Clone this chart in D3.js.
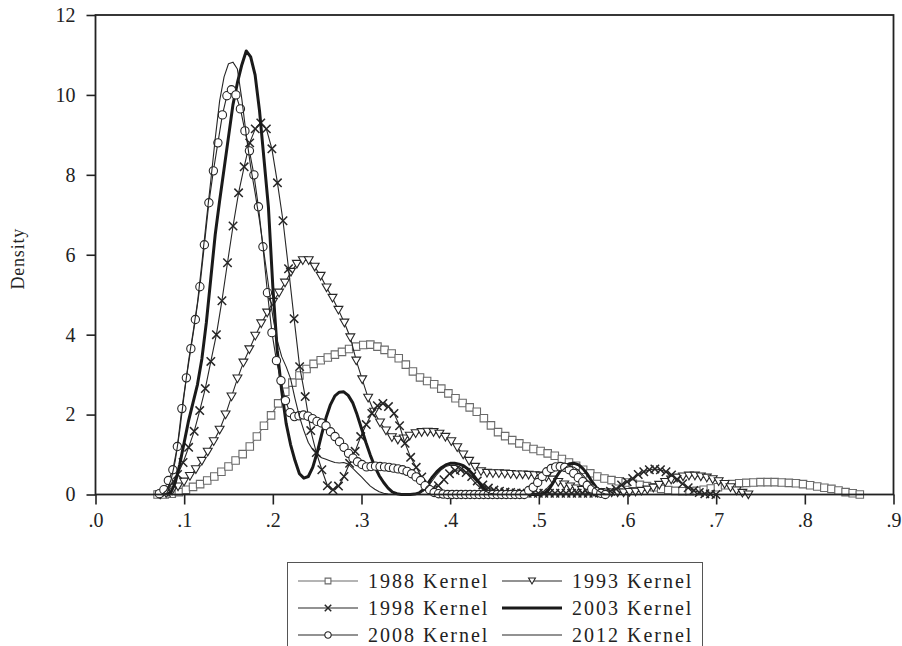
<!DOCTYPE html>
<html>
<head>
<meta charset="utf-8">
<script src="https://cdn.jsdelivr.net/npm/d3@7"></script>
<style>
  body { margin: 0; background: #fff; }
  svg text { font-family: "Liberation Serif", "Times New Roman", serif; fill: #222; }
</style>
</head>
<body>
<div id="chart"></div>
<script>
// kernel density estimates, each evaluated on an even grid [start, step]
var grid1988 = [0.070, 0.008];
var dens1988 = [0.00,0.00,0.02,0.06,0.12,0.19,0.26,0.35,0.45,0.57,
  0.70,0.85,1.01,1.20,1.45,1.72,1.98,2.28,2.57,2.80,
  2.98,3.14,3.27,3.36,3.43,3.50,3.57,3.64,3.70,3.74,
  3.75,3.70,3.62,3.53,3.41,3.25,3.08,2.93,2.84,2.76,
  2.65,2.53,2.41,2.29,2.18,2.07,1.91,1.73,1.56,1.46,
  1.36,1.28,1.20,1.14,1.09,1.03,0.97,0.89,0.80,0.72,
  0.62,0.53,0.45,0.40,0.36,0.33,0.30,0.27,0.24,0.21,
  0.18,0.14,0.11,0.09,0.08,0.08,0.09,0.12,0.15,0.18,
  0.23,0.26,0.28,0.29,0.30,0.31,0.31,0.31,0.30,0.29,
  0.28,0.26,0.23,0.20,0.17,0.14,0.10,0.06,0.03,0.00];

var grid1993 = [0.073, 0.0067];
var dens1993 = [0.00,0.03,0.10,0.20,0.32,0.46,0.63,0.84,1.07,1.33,
  1.62,2.00,2.45,2.90,3.30,3.63,3.97,4.28,4.55,4.82,
  5.05,5.30,5.57,5.77,5.86,5.86,5.70,5.47,5.18,4.92,
  4.62,4.30,3.93,3.35,2.88,2.42,2.07,1.80,1.60,1.43,
  1.37,1.40,1.47,1.53,1.56,1.57,1.56,1.52,1.44,1.33,
  1.18,1.00,0.84,0.69,0.58,0.54,0.53,0.53,0.52,0.51,
  0.50,0.50,0.49,0.48,0.47,0.43,0.37,0.31,0.25,0.20,
  0.15,0.11,0.09,0.07,0.06,0.05,0.05,0.05,0.05,0.06,
  0.07,0.09,0.12,0.17,0.24,0.31,0.37,0.42,0.45,0.47,
  0.47,0.45,0.42,0.38,0.33,0.26,0.18,0.10,0.04,0.00];

var grid1998 = [0.080, 0.00626];
var dens1998 = [0.05,0.28,0.50,0.80,1.18,1.58,2.10,2.65,3.33,4.00,
  4.85,5.80,6.72,7.55,8.20,8.80,9.15,9.30,9.15,8.65,
  7.80,6.85,5.65,4.40,3.20,2.45,1.60,1.05,0.62,0.22,
  0.12,0.21,0.45,0.78,1.08,1.45,1.75,2.03,2.22,2.28,
  2.20,2.03,1.72,1.28,0.93,0.68,0.44,0.23,0.16,0.22,
  0.37,0.52,0.60,0.62,0.55,0.45,0.34,0.24,0.16,0.11,
  0.08,0.06,0.05,0.04,0.03,0.03,0.03,0.03,0.03,0.03,
  0.03,0.03,0.03,0.03,0.03,0.03,0.03,0.03,0.04,0.05,
  0.08,0.14,0.24,0.32,0.40,0.50,0.57,0.62,0.64,0.62,
  0.57,0.49,0.38,0.27,0.17,0.10,0.05,0.02,0.01,0.00];

var grid2003 = [0.080, 0.005];
var dens2003 = [0.00,0.05,0.30,0.75,1.30,1.85,2.30,2.75,3.40,4.30,
  5.40,6.50,7.35,8.15,8.95,9.75,10.30,10.75,11.10,10.95,
  10.50,9.60,8.40,7.20,5.20,3.60,2.60,1.78,1.25,0.85,
  0.52,0.41,0.45,0.68,1.05,1.50,1.92,2.25,2.47,2.56,
  2.57,2.48,2.30,2.00,1.65,1.30,0.98,0.70,0.47,0.30,
  0.16,0.06,0.02,0.00,0.00,0.00,0.01,0.04,0.13,0.28,
  0.44,0.57,0.67,0.74,0.78,0.78,0.76,0.72,0.64,0.52,
  0.37,0.22,0.10,0.04,0.01,0.00,0.00,0.00,0.00,0.00,
  0.00,0.00,0.00,0.00,0.00,0.02,0.08,0.25,0.45,0.62,
  0.72,0.77,0.78,0.74,0.64,0.50,0.32,0.17,0.07,0.02,
  0.00];

var grid2008 = [0.072, 0.00508];
var dens2008 = [0.02,0.12,0.35,0.62,1.20,2.15,2.92,3.65,4.38,5.20,
  6.25,7.30,8.10,8.80,9.50,9.98,10.13,10.00,9.65,9.10,
  8.60,8.00,7.20,6.20,5.05,4.05,3.35,2.85,2.35,2.05,
  1.95,1.97,1.99,1.96,1.90,1.83,1.79,1.72,1.57,1.45,
  1.32,1.18,1.03,0.91,0.82,0.75,0.69,0.70,0.71,0.70,
  0.69,0.68,0.66,0.64,0.62,0.58,0.52,0.44,0.35,0.22,
  0.12,0.05,0.02,0.01,0.00,0.00,0.00,0.00,0.00,0.00,
  0.00,0.00,0.00,0.00,0.00,0.00,0.00,0.00,0.00,0.00,
  0.00,0.00,0.10,0.18,0.30,0.45,0.57,0.65,0.69,0.70,
  0.68,0.62,0.53,0.42,0.32,0.23,0.14,0.07,0.03,0.00];

var grid2012 = [0.075, 0.005];
var dens2012 = [0.00,0.10,0.35,0.85,1.60,2.50,3.35,4.05,4.80,5.80,
  6.85,7.85,8.90,9.85,10.45,10.78,10.82,10.65,9.90,9.00,
  8.20,7.55,6.85,6.05,5.25,4.45,3.85,3.45,3.20,2.90,
  2.40,1.95,1.60,1.30,1.12,1.00,0.92,0.88,0.84,0.80,
  0.79,0.80,0.76,0.66,0.55,0.44,0.32,0.21,0.13,0.07,
  0.03,0.01,0.00,0.00,0.00,0.00,0.00,0.01,0.03,0.09,
  0.20,0.35,0.50,0.62,0.70,0.73,0.73,0.70,0.62,0.50,
  0.37,0.25,0.15,0.08,0.03,0.01,0.00,0.00,0.00,0.00,
  0.00,0.00,0.00,0.00,0.00,0.02,0.07,0.17,0.30,0.45,
  0.58,0.67,0.70,0.68,0.60,0.48,0.35,0.22,0.12,0.05,
  0.01,0.00];

var seriesNames = ["1988 Kernel", "1993 Kernel", "1998 Kernel", "2003 Kernel", "2008 Kernel", "2012 Kernel"];
var xTicks = [0, 0.1, 0.2, 0.3, 0.4, 0.5, 0.6, 0.7, 0.8, 0.9];
var xTickLabels = [".0", ".1", ".2", ".3", ".4", ".5", ".6", ".7", ".8", ".9"];
var yTicks = [0, 2, 4, 6, 8, 10, 12];

// style for each series: marker kind, line colour and width
var looks = [
  {marker: "square",   stroke: "#6a6a6a", width: 1.2},
  {marker: "triangle", stroke: "#262626", width: 1.1},
  {marker: "x",        stroke: "#262626", width: 1.1},
  {marker: null,       stroke: "#1a1a1a", width: 3},
  {marker: "circle",   stroke: "#262626", width: 1.1},
  {marker: null,       stroke: "#262626", width: 1.1}
];

var grids = [grid1988, grid1993, grid1998, grid2003, grid2008, grid2012];
var dens = [dens1988, dens1993, dens1998, dens2003, dens2008, dens2012];

var series = seriesNames.map(function(name, k){
  return {
    name: name,
    look: looks[k],
    points: dens[k].map(function(v, i){ return {x: grids[k][0] + i * grids[k][1], y: v}; })
  };
});

var W = 902, H = 646;
// plot box edges (window.top is reserved, so keep these in one object)
var box = {left: 95.5, right: 893.5, top: 15, bottom: 494.5};

var svg = d3.select("#chart").append("svg")
    .attr("width", W)
    .attr("height", H);

var x = d3.scaleLinear().domain([0, 0.9]).range([box.left, box.right]);
var y = d3.scaleLinear().domain([0, 12]).range([box.bottom, box.top]);

// axes
var xAxis = svg.append("g")
    .attr("transform", "translate(0," + box.bottom + ")")
    .call(d3.axisBottom(x)
      .tickValues(xTicks)
      .tickFormat(function(d, i){ return xTickLabels[i]; })
      .tickSize(10)
      .tickPadding(8));

var yAxis = svg.append("g")
    .attr("transform", "translate(" + box.left + ",0)")
    .call(d3.axisLeft(y)
      .tickValues(yTicks)
      .tickSize(9)
      .tickPadding(11));

[xAxis, yAxis].forEach(function(a){
  a.select(".domain").remove();
  a.selectAll("line").attr("stroke", "#222").attr("stroke-width", 1.6);
  a.selectAll("text").attr("font-size", 20).style("font-family", "'Liberation Serif', serif").attr("fill", "#222");
});

// y label
svg.append("text")
    .attr("transform", "translate(24," + ((box.top + box.bottom) / 2 + 4) + ") rotate(-90)")
    .attr("text-anchor", "middle")
    .attr("font-size", 18)
    .attr("letter-spacing", 0.8)
    .text("Density");

// marker drawing, scale k lets the legend use smaller markers
var symbolType = {
  square: d3.symbolSquare,
  triangle: d3.symbolTriangle,
  x: d3.symbolTimes,
  circle: d3.symbolCircle
};
var symbolSize = {square: 56, triangle: 34, x: 48, circle: 54};

function drawMarker(g, kind, stroke, px, py, k){
  var sz = symbolSize[kind] * (k || 1);
  var m = g.append("path")
      .attr("d", d3.symbol().type(symbolType[kind]).size(sz)())
      .attr("stroke", stroke)
      .attr("stroke-width", kind == "x" ? 1.5 : 1.1)
      .attr("fill", kind == "x" ? "none" : "#fff");
  if (kind == "triangle") {
    m.attr("transform", "translate(" + px + "," + (py - 1) + ") rotate(180)");
  } else {
    m.attr("transform", "translate(" + px + "," + py + ")");
  }
}

var line = d3.line()
    .x(function(d){ return x(d.x); })
    .y(function(d){ return y(d.y); });

var plot = svg.append("g");

series.forEach(function(s){
  var g = plot.append("g");
  g.append("path")
      .datum(s.points)
      .attr("d", line)
      .attr("fill", "none")
      .attr("stroke", s.look.stroke)
      .attr("stroke-width", s.look.width)
      .attr("stroke-linejoin", "round");
  if (s.look.marker) {
    s.points.forEach(function(p){
      drawMarker(g, s.look.marker, s.look.stroke, x(p.x), y(p.y));
    });
  }
});

// frame round the plot
svg.append("rect")
    .attr("x", box.left)
    .attr("y", box.top)
    .attr("width", box.right - box.left)
    .attr("height", box.bottom - box.top)
    .attr("fill", "none")
    .attr("stroke", "#222")
    .attr("stroke-width", 1.8);

// legend, two columns of three rows
var lg = svg.append("g");
lg.append("rect")
    .attr("x", 287.5)
    .attr("y", 562.5)
    .attr("width", 415)
    .attr("height", 100)
    .attr("fill", "#fff")
    .attr("stroke", "#555")
    .attr("stroke-width", 1);

var colX = [298, 502], rowY = [581, 608, 635];
series.forEach(function(s, k){
  var cx = colX[k % 2], cy = rowY[Math.floor(k / 2)];
  lg.append("line")
      .attr("x1", cx).attr("x2", cx + 60)
      .attr("y1", cy).attr("y2", cy)
      .attr("stroke", s.look.stroke)
      .attr("stroke-width", s.look.width);
  if (s.look.marker) drawMarker(lg, s.look.marker, s.look.stroke, cx + 30, cy, 0.6);
  lg.append("text")
      .attr("x", cx + 70)
      .attr("y", cy + 7)
      .attr("font-size", 20)
      .attr("letter-spacing", 2)
      .text(s.name);
});
</script>
</body>
</html>
